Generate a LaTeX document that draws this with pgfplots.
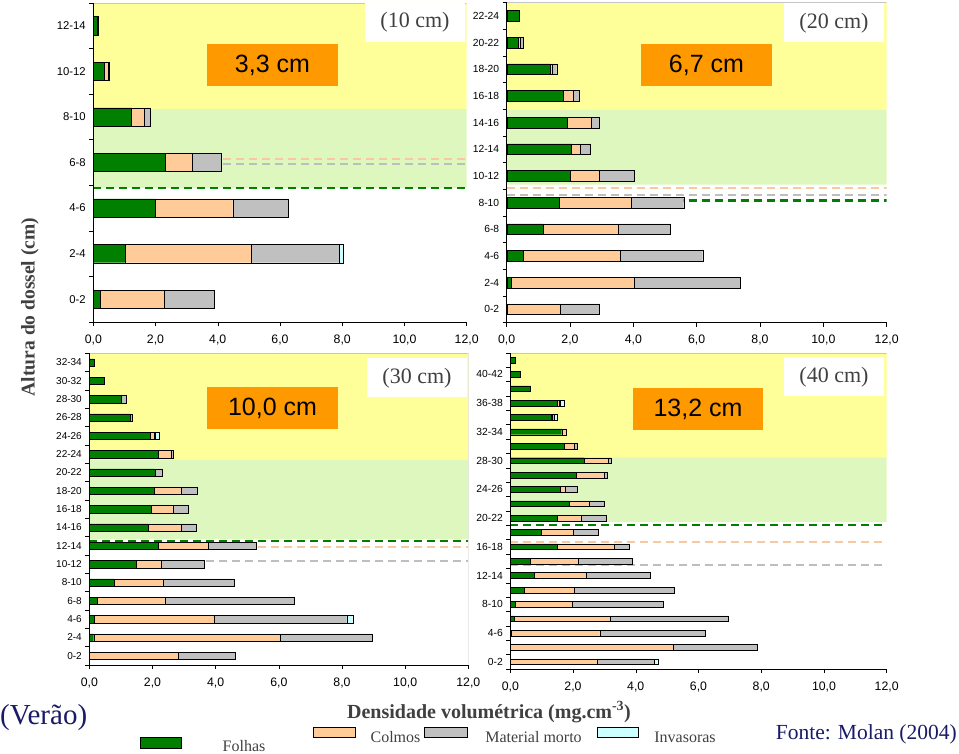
\documentclass[border=0pt]{standalone}
\usepackage{pgfplots}
\pgfplotsset{compat=1.18}
\usepackage{pgfplotstable}
\usepackage{fontspec}
\setmainfont{Liberation Serif}
\setsansfont{Liberation Sans}
\definecolor{folhas}{HTML}{007F00}
\definecolor{colmos}{HTML}{FFCC99}
\definecolor{morto}{HTML}{C0C0C0}
\definecolor{invas}{HTML}{CCFFFF}
\definecolor{yel}{HTML}{FFFF99}
\definecolor{lgr}{HTML}{DDF7BF}
\definecolor{orng}{HTML}{FF9900}
\definecolor{navy}{HTML}{1A1A66}
\definecolor{txtg}{HTML}{404040}
\definecolor{pinkd}{HTML}{F8C8A0}
\definecolor{grayd}{HTML}{BEBEBE}

% panel 10 cm
\pgfplotstableread{
y F C M I
0 0.21 2.07 1.60 0
1 1.04 4.04 2.83 0.13
2 2.00 2.48 1.79 0
3 2.31 0.88 0.93 0
4 1.23 0.40 0.19 0
5 0.35 0.13 0.02 0
6 0.12 0.00 0.04 0
}\tabA
% panel 20 cm
\pgfplotstableread{
y F C M I
0 0.00 1.68 1.25 0
1 0.15 3.88 3.34 0
2 0.51 3.06 2.62 0
3 1.15 2.38 1.64 0
4 1.66 2.28 1.65 0
5 2.01 0.92 1.10 0
6 2.05 0.28 0.32 0
7 1.92 0.75 0.26 0
8 1.77 0.32 0.20 0
9 1.38 0.05 0.15 0
10 0.35 0.08 0.09 0
11 0.39 0 0 0
}\tabB
% panel 30 cm
\pgfplotstableread{
y F C M I
0 0 2.82 1.81 0
1 0.14 5.92 2.89 0
2 0.17 3.80 4.18 0.19
3 0.24 2.17 4.07 0
4 0.78 1.56 2.24 0
5 1.48 0.81 1.36 0
6 2.18 1.57 1.53 0
7 1.86 1.06 0.47 0
8 1.96 0.70 0.47 0
9 2.06 0.86 0.49 0
10 2.08 0 0.23 0
11 2.18 0.40 0.08 0
12 1.92 0.13 0.03 0.14
13 1.29 0 0.07 0
14 1.02 0 0.16 0
15 0.46 0 0 0
16 0.16 0 0 0
}\tabC
% panel 40 cm
\pgfplotstableread{
y F C M I
0 0 2.78 1.81 0.11
1 0 5.20 2.67 0
2 0.04 2.81 3.37 0
3 0.13 3.07 3.76 0
4 0.17 1.79 2.92 0
5 0.44 1.61 3.17 0
6 0.75 1.68 2.04 0
7 0.63 1.54 1.71 0
8 1.51 1.81 0.48 0
9 1.00 1.02 0.79 0
10 1.51 0.76 0.79 0
11 1.89 0.62 0.47 0
12 1.59 0.16 0.39 0
13 2.11 0.89 0.09 0
14 2.36 0.76 0.09 0
15 1.73 0.31 0.10 0
16 1.64 0.15 0 0
17 1.29 0.06 0.05 0.11
18 1.49 0.06 0.05 0.11
19 0.65 0 0 0
20 0.31 0 0 0
21 0.17 0 0 0
}\tabD

\pgfplotsset{
 bgpanel/.style={
  scale only axis, anchor=south west, hide axis, xmin=0, xmax=12,
 },
 panel/.style={
  scale only axis, anchor=south west,
  xbar stacked, bar width=0.4,
  xmin=0, xmax=12, xtick={0,2,...,12},
  axis lines=left, axis line style={-, black, line width=0.6pt}, axis on top,
  tick align=outside, major tick length=4pt,
  tick style={black, line width=0.5pt},
  y tick label as interval,
  xticklabel={\pgfmathprintnumber[fixed, fixed zerofill, precision=1, use comma, assume math mode=true]{\tick}},
  tick label style={font=\sffamily\fontsize{12.3}{14}\selectfont},
  every x tick label/.append style={yshift=-5pt},
 },
 bars/.style={draw=black, line width=0.4pt},
}
\tikzset{
 gdash/.style={draw=folhas, line width=2.5pt, dash pattern=on 8pt off 5pt},
 pdash/.style={draw=pinkd, line width=2pt, dash pattern=on 8pt off 5pt},
 ydash/.style={draw=grayd, line width=2pt, dash pattern=on 8pt off 5pt},
}

\begin{document}
\begin{tikzpicture}[x=1pt,y=1pt]
\path (0,0) rectangle (959,754);

% Panel 1 (10 cm)
\begin{axis}[bgpanel, at={(93.3pt,432pt)}, width=373.4pt, height=319pt, ymin=-0.5, ymax=6.5]
\addplot[draw=none, fill=yel] coordinates {(0,4.17) (12,4.17) (12,6.5) (0,6.5)} \closedcycle;
\addplot[draw=none, fill=lgr] coordinates {(0,2.44) (12,2.44) (12,4.17) (0,4.17)} \closedcycle;
\draw[gray!45] (rel axis cs:0,1) -- (rel axis cs:1,1) -- (rel axis cs:1,0);
\end{axis}
\begin{axis}[panel, at={(93.3pt,432pt)}, width=373.4pt, height=319pt,
  ymin=-0.5, ymax=6.5, ytick={-0.5,0.5,...,6.5},
  yticklabels={0-2,2-4,4-6,6-8,8-10,10-12,12-14},
  yticklabel style={font=\sffamily\fontsize{11.3}{13}\selectfont}]
\addplot[bars, fill=folhas] table[x=F,y=y]{\tabA};
\addplot[bars, fill=colmos] table[x=C,y=y]{\tabA};
\addplot[bars, fill=morto] table[x=M,y=y]{\tabA};
\addplot[bars, fill=invas] table[x=I,y=y]{\tabA};
\draw[pdash] (axis cs:0,3.07) -- (axis cs:12,3.07);
\draw[ydash] (axis cs:0,2.96) -- (axis cs:12,2.96);
\draw[gdash] (axis cs:0,2.44) -- (axis cs:12,2.44);
\end{axis}

% Panel 2 (20 cm)
\begin{axis}[bgpanel, at={(506.7pt,431.4pt)}, width=380pt, height=320pt, ymin=-0.5, ymax=11.5]
\addplot[draw=none, fill=yel] coordinates {(0,7.49) (12,7.49) (12,11.5) (0,11.5)} \closedcycle;
\addplot[draw=none, fill=lgr] coordinates {(0,4.67) (12,4.67) (12,7.49) (0,7.49)} \closedcycle;
\draw[gray!45] (rel axis cs:0,1) -- (rel axis cs:1,1) -- (rel axis cs:1,0);
\end{axis}
\begin{axis}[panel, at={(506.7pt,431.4pt)}, width=380pt, height=320pt,
  ymin=-0.5, ymax=11.5, ytick={-0.5,0.5,...,11.5},
  yticklabels={0-2,2-4,4-6,6-8,8-10,10-12,12-14,14-16,16-18,18-20,20-22,22-24},
  yticklabel style={font=\sffamily\fontsize{10.3}{12}\selectfont}]
\addplot[bars, fill=folhas] table[x=F,y=y]{\tabB};
\addplot[bars, fill=colmos] table[x=C,y=y]{\tabB};
\addplot[bars, fill=morto] table[x=M,y=y]{\tabB};
\addplot[bars, fill=invas] table[x=I,y=y]{\tabB};
\draw[pdash] (axis cs:0,4.56) -- (axis cs:12,4.56);
\draw[ydash] (axis cs:0,4.30) -- (axis cs:12,4.30);
\draw[gdash] (axis cs:0,4.07) -- (axis cs:12,4.07);
\end{axis}

% Panel 3 (30 cm)
\begin{axis}[bgpanel, at={(89.3pt,89pt)}, width=379pt, height=311.7pt, ymin=-0.5, ymax=16.5]
\addplot[draw=none, fill=yel] coordinates {(0,10.7) (12,10.7) (12,16.5) (0,16.5)} \closedcycle;
\addplot[draw=none, fill=lgr] coordinates {(0,6.37) (12,6.37) (12,10.7) (0,10.7)} \closedcycle;
\draw[gray!45] (rel axis cs:0,1) -- (rel axis cs:1,1) -- (rel axis cs:1,0);
\end{axis}
\begin{axis}[panel, at={(89.3pt,89pt)}, width=379pt, height=311.7pt,
  ymin=-0.5, ymax=16.5, ytick={-0.5,0.5,...,16.5},
  yticklabels={0-2,2-4,4-6,6-8,8-10,10-12,12-14,14-16,16-18,18-20,20-22,22-24,24-26,26-28,28-30,30-32,32-34},
  yticklabel style={font=\sffamily\fontsize{10}{12}\selectfont}]
\addplot[bars, fill=folhas] table[x=F,y=y]{\tabC};
\addplot[bars, fill=colmos] table[x=C,y=y]{\tabC};
\addplot[bars, fill=morto] table[x=M,y=y]{\tabC};
\addplot[bars, fill=invas] table[x=I,y=y]{\tabC};
\draw[pdash] (axis cs:0,5.93) -- (axis cs:12,5.93);
\draw[ydash] (axis cs:0,5.18) -- (axis cs:12,5.18);
\draw[gdash] (axis cs:0,6.26) -- (axis cs:12,6.26);
\end{axis}

% Panel 4 (40 cm)
\begin{axis}[bgpanel, at={(510.3pt,85pt)}, width=376.4pt, height=316.2pt, ymin=-0.5, ymax=21.5]
\addplot[draw=none, fill=yel] coordinates {(0,14.23) (12,14.23) (12,21.5) (0,21.5)} \closedcycle;
\addplot[draw=none, fill=lgr] coordinates {(0,9.74) (12,9.74) (12,14.23) (0,14.23)} \closedcycle;
\draw[gray!45] (rel axis cs:0,1) -- (rel axis cs:1,1) -- (rel axis cs:1,0);
\end{axis}
\begin{axis}[panel, at={(510.3pt,85pt)}, width=376.4pt, height=316.2pt,
  ymin=-0.5, ymax=21.5, ytick={-0.5,0.5,...,21.5},
  yticklabels={0-2,,4-6,,8-10,,12-14,,16-18,,20-22,,24-26,,28-30,,32-34,,36-38,,40-42,},
  yticklabel style={font=\sffamily\fontsize{10.3}{12}\selectfont}]
\addplot[bars, fill=folhas] table[x=F,y=y]{\tabD};
\addplot[bars, fill=colmos] table[x=C,y=y]{\tabD};
\addplot[bars, fill=morto] table[x=M,y=y]{\tabD};
\addplot[bars, fill=invas] table[x=I,y=y]{\tabD};
\draw[pdash] (axis cs:0,8.31) -- (axis cs:12,8.31);
\draw[ydash] (axis cs:0,6.71) -- (axis cs:12,6.71);
\draw[gdash] (axis cs:0,9.51) -- (axis cs:12,9.51);
\end{axis}

% annotation boxes
\tikzset{obox/.style={fill=orng, inner sep=0pt, minimum width=131pt, minimum height=42pt, font=\sffamily\fontsize{25}{30}\selectfont},
  wbox/.style={fill=white, inner sep=0pt, minimum width=100pt, minimum height=39pt, text=txtg, font=\fontsize{22}{26}\selectfont}}
\node[obox] at (272.5,689) {3,3 cm};
\node[wbox] at (415,731.5) {(10 cm)};
\node[obox] at (706.5,689) {6,7 cm};
\node[wbox] at (834,731) {(20 cm)};
\node[obox] at (272.5,345.5) {10,0 cm};
\node[wbox] at (417,376) {(30 cm)};
\node[obox, minimum width=130pt] at (698,344.5) {13,2 cm};
\node[wbox] at (834,377) {(40 cm)};

% titles
\node[rotate=90, text=txtg, font=\bfseries\fontsize{19.5}{23}\selectfont] at (30,447) {Altura do dossel (cm)};
\node[text=txtg, font=\bfseries\fontsize{20}{24}\selectfont] at (489,42) {Densidade volumétrica (mg.cm\textsuperscript{-3})};
\node[anchor=west, inner sep=0pt, text=navy, font=\fontsize{29}{34}\selectfont] at (0,36.5) {(Verão)};
\node[anchor=east, inner sep=0pt, text=navy, font=\fontsize{21.5}{26}\selectfont] at (957,20) {Fonte: Molan (2004)};

% legend
\draw[black, line width=0.6pt, fill=folhas] (140,5.7) rectangle (181,16.3);
\node[anchor=base, inner sep=0pt, text=txtg, font=\fontsize{16}{19}\selectfont] at (244,2) {Folhas};
\draw[black, line width=0.6pt, fill=colmos] (313,16.5) rectangle (355,26.5);
\node[anchor=base, inner sep=0pt, text=txtg, font=\fontsize{16}{19}\selectfont] at (395.5,11) {Colmos};
\draw[black, line width=0.6pt, fill=morto] (424,16.5) rectangle (467,26.5);
\node[anchor=base, inner sep=0pt, text=txtg, font=\fontsize{16}{19}\selectfont] at (533.5,11) {Material morto};
\draw[black, line width=0.6pt, fill=invas] (597,16.5) rectangle (638,26.5);
\node[anchor=base, inner sep=0pt, text=txtg, font=\fontsize{16}{19}\selectfont] at (685,11) {Invasoras};
\end{tikzpicture}
\end{document}
